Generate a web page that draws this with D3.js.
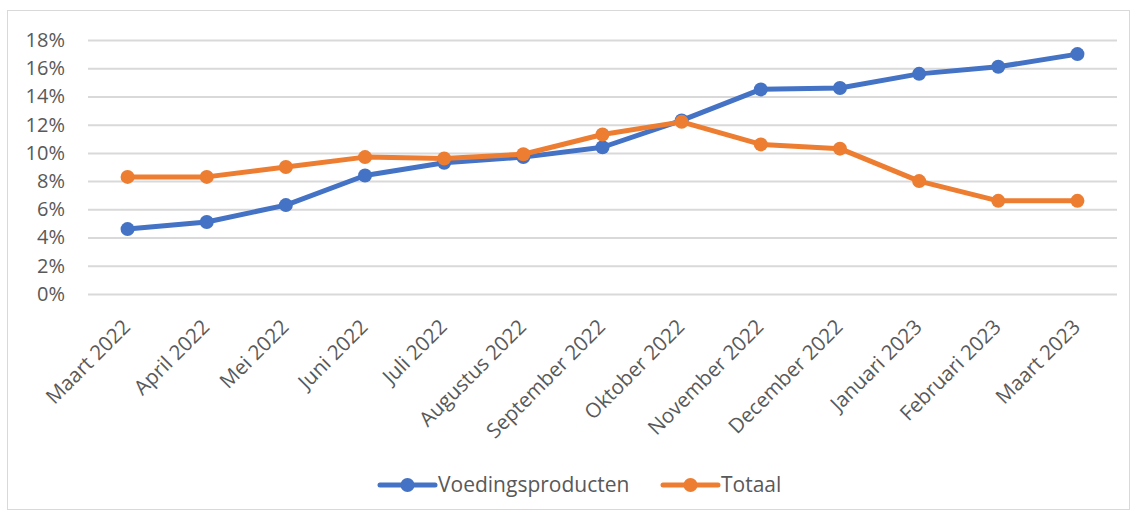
<!DOCTYPE html>
<html><head><meta charset="utf-8">
<script src="https://cdn.jsdelivr.net/npm/d3@7"></script>
<style>
body{margin:0;background:#fff;}
text{font-family:"Open Sans",sans-serif;fill:#595959;}
</style></head>
<body><svg id="c" width="1136" height="516"></svg>
<script>
const categories = ["Maart 2022","April 2022","Mei 2022","Juni 2022","Juli 2022","Augustus 2022","September 2022","Oktober 2022","November 2022","December 2022","Januari 2023","Februari 2023","Maart 2023"];
const voedingsproducten = [4.6, 5.1, 6.3, 8.4, 9.3, 9.7, 10.4, 12.3, 14.5, 14.6, 15.6, 16.1, 17.0];
const totaal = [8.3, 8.3, 9.0, 9.7, 9.6, 9.9, 11.3, 12.2, 10.6, 10.3, 8.0, 6.6, 6.6];
const yTicks = [0,2,4,6,8,10,12,14,16,18];
const seriesNames = ["Voedingsproducten","Totaal"];
const colors = ["#4472C4","#ED7D31"];
const FONT = "'Open Sans',sans-serif";

const svg = d3.select("#c");
svg.append("rect").attr("x",7.5).attr("y",10.5).attr("width",1122).attr("height",499)
  .attr("fill","#fff").attr("stroke","#d9d9d9").attr("stroke-width",1);

const x = d3.scaleBand().domain(categories).range([88,1117]);
const y = d3.scaleLinear().domain([0,18]).range([294,40]);

// grid
const yAxis = d3.axisLeft(y).tickValues(yTicks).tickFormat(d=>d+"%").tickSize(-(1117-88)).tickPadding(23);
const ga = svg.append("g").attr("transform","translate(88,0)").call(yAxis);
ga.select(".domain").remove();
ga.selectAll(".tick line").attr("stroke","#d9d9d9").attr("stroke-width",2);
ga.selectAll(".tick text").attr("font-size",20).attr("fill","#595959").style("font-family",FONT);

// x labels
const xAxis = d3.axisBottom(x).tickSize(0).tickPadding(0);
const gx = svg.append("g").attr("transform","translate(0,294)").call(xAxis);
gx.select(".domain").remove();
gx.selectAll(".tick text")
  .attr("font-size",20.5).attr("fill","#595959").style("font-family",FONT)
  .attr("text-anchor","end").attr("dy","0.35em")
  .attr("transform","translate(-1,29) rotate(-45)");

const cx = d => x(d) + x.bandwidth()/2;
const line = d3.line().x((d,i)=>cx(categories[i])).y(d=>y(d));
[voedingsproducten, totaal].forEach((vals,k)=>{
  svg.append("path").datum(vals).attr("d",line).attr("fill","none")
    .attr("stroke",colors[k]).attr("stroke-width",5).attr("stroke-linejoin","round");
  svg.append("g").selectAll("circle").data(vals).join("circle")
    .attr("cx",(d,i)=>cx(categories[i])).attr("cy",d=>y(d)).attr("r",7).attr("fill",colors[k]);
});

// legend
const legend = [{x:380,name:seriesNames[0],c:colors[0]},{x:663,name:seriesNames[1],c:colors[1]}];
legend.forEach(l=>{
  const g = svg.append("g").attr("transform",`translate(${l.x},485)`);
  g.append("line").attr("x1",0).attr("x2",55).attr("stroke",l.c).attr("stroke-width",5).attr("stroke-linecap","round");
  g.append("circle").attr("cx",27.5).attr("r",7).attr("fill",l.c);
  g.append("text").attr("x",58).attr("dy","0.35em").attr("font-size",21).style("font-family",FONT).text(l.name);
});
</script></body></html>
